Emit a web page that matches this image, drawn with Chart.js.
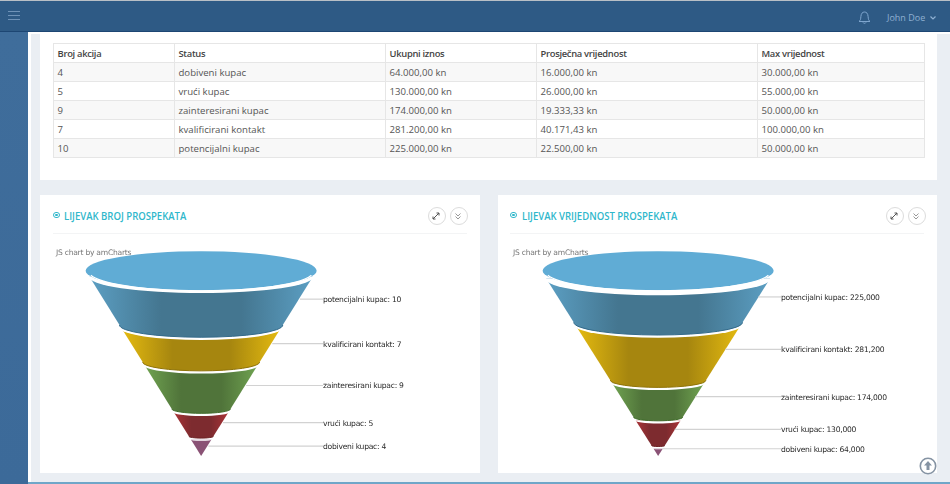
<!DOCTYPE html>
<html lang="hr">
<head>
<meta charset="utf-8">
<title>Lijevak prospekata</title>
<script src="https://cdn.jsdelivr.net/npm/chart.js@4/dist/chart.umd.min.js"></script>
<style>
  html, body { margin: 0; padding: 0; }
  body { width: 950px; height: 484px; position: relative; overflow: hidden; background: #fff; font-family: "Open Sans", sans-serif; color: #555; }
  .abs { position: absolute; }
  #topline { left: 0; top: 0; width: 950px; height: 1px; background: #b9bfc6; }
  #header { left: 0; top: 1px; width: 950px; height: 31px; background: #2e5a85; border-bottom: 1px solid #1d4673; box-sizing: border-box; }
  #sidebar { left: 0; top: 32px; width: 28px; height: 452px; background: linear-gradient(#3f6d9b, #3c6a99); }
  #gutter { left: 31px; top: 34px; width: 919px; height: 450px; background: #eaeef3; }
  #bottom { left: 28px; top: 482px; width: 922px; height: 2px; background: #6fa6c8; }
  .burger { left: 8px; width: 12px; height: 1.4px; background: #6f93b8; }
  #bell { left: 858px; top: 10px; }
  #user { left: 887px; top: 11px; font-size: 9px; color: #8fb0d2; white-space: nowrap; }
  .card { background: #fff; }
  #tableCard { left: 40px; top: 33px; width: 897px; height: 147px; }
  #cardL { left: 40px; top: 195px; width: 440px; height: 278px; }
  #cardR { left: 498px; top: 195px; width: 439px; height: 278px; }
  table { position: absolute; left: 53px; top: 43px; width: 871px; border-collapse: collapse; table-layout: fixed; font-size: 9.6px; line-height: 12px; }
  th, td { border: 1px solid #e6e6e6; height: 17px; padding: 1px 0 0 3.5px; text-align: left; box-sizing: content-box; white-space: nowrap; }
  th { font-weight: 600; font-size: 9.4px; letter-spacing: -.3px; color: #444; background: #fff; }
  tbody tr:nth-child(odd) td { background: #f8f8f8; }
  .title { top: 209px; font-size: 10.6px; line-height: 14px; font-weight: 600; color: #2fb7cb; white-space: nowrap; transform: scaleX(.9); transform-origin: 0 0; }
  .rule { top: 233px; height: 1px; background: #f3f4f5; }
  .dot { top: 211.5px; width: 4.5px; height: 4.5px; border: 1.7px solid #2fb7cb; border-radius: 50%; box-sizing: content-box; }
  .dot::after { content: ""; position: absolute; left: 1px; top: 1px; width: 2.5px; height: 2.5px; background: #2fb7cb; border-radius: 50%; }
  .btn { top: 207px; width: 16px; height: 16px; border: 1px solid #dcdcdc; border-radius: 50%; background: #fff; }
  canvas { position: absolute; }
  #upBtn { left: 919px; top: 457px; }
</style>
</head>
<body>
<div class="abs" id="gutter"></div>
<div class="abs" id="sidebar"></div>
<div class="abs" id="bottom"></div>
<div class="abs" id="topline"></div>
<div class="abs" id="header"></div>
<div class="abs burger" style="top:11px"></div>
<div class="abs burger" style="top:15px"></div>
<div class="abs burger" style="top:19px"></div>
<svg class="abs" id="bell" width="13" height="15" viewBox="0 0 13 15" fill="none" stroke="#7fa6cf" stroke-width="1">
  <path d="M1 11.5c1.5-1 1.7-2.5 1.9-5C3.1 3.5 4.5 2 6.5 2s3.4 1.500 3.600 4.500c.2 2.500.4 4 1.900 5z"/><path d="M5 12.500c.3 1 2.700 1 3 0"/>
</svg>
<div class="abs" id="user">John Doe &nbsp;<svg width="6" height="4" viewBox="0 0 6 4" fill="none" stroke="#8fb0d2" stroke-width="1.200" style="vertical-align:1px"><path d="M.5.500 3 3 5.500.500"/></svg></div>

<div class="abs card" id="tableCard"></div>
<table>
  <colgroup><col style="width:121px"><col style="width:211px"><col style="width:151px"><col style="width:221px"><col style="width:167px"></colgroup>
  <thead><tr id="headRow"></tr></thead>
  <tbody id="tableBody"></tbody>
</table>

<div class="abs card" id="cardL"></div>
<div class="abs card" id="cardR"></div>

<div class="abs dot" style="left:53px"></div>
<div class="abs title" style="left:64px">LIJEVAK BROJ PROSPEKATA</div>
<div class="abs rule" style="left:53px;width:414px"></div>
<div class="abs btn" style="left:428px"></div>
<div class="abs btn" style="left:450px"></div>
<div class="abs dot" style="left:510px"></div>
<div class="abs title" style="left:521.500px">LIJEVAK VRIJEDNOST PROSPEKATA</div>
<div class="abs rule" style="left:510px;width:414px"></div>
<div class="abs btn" style="left:886px"></div>
<div class="abs btn" style="left:908px"></div>

<svg class="abs" style="left:431px;top:211px" width="54" height="10" viewBox="0 0 54 10" fill="none" stroke="#555" stroke-width="1">
  <path d="M2 8 8 2M5.500 2H8V4.500M2 5.500V8H4.500"/><path stroke="#999" d="M24.500 2.500 27 5l2.500-2.500M24.500 5.500 27 8l2.500-2.500"/>
</svg>
<svg class="abs" style="left:889px;top:211px" width="54" height="10" viewBox="0 0 54 10" fill="none" stroke="#555" stroke-width="1">
  <path d="M2 8 8 2M5.500 2H8V4.500M2 5.500V8H4.500"/><path stroke="#999" d="M24.500 2.500 27 5l2.500-2.500M24.500 5.500 27 8l2.500-2.500"/>
</svg>

<canvas id="funnelCount" style="left:41px;top:236px;width:439px;height:236px" width="439" height="236"></canvas>
<canvas id="funnelAmount" style="left:498px;top:236px;width:439px;height:236px" width="439" height="236"></canvas>

<svg class="abs" id="upBtn" width="18" height="18" viewBox="0 0 18 18" fill="none">
  <circle cx="9" cy="9" r="7.700" stroke="#8593a3" stroke-width="1.600"/><path d="M9 4 5 8.500h2.500V13h3V8.500H13z" fill="#8593a3"/>
</svg>

<script>
"use strict";

const TABLE_HEADERS = ["Broj akcija", "Status", "Ukupni iznos", "Prosječna vrijednost", "Max vrijednost"];
const ACTION_COUNTS = [4, 5, 9, 7, 10];
const STATUSES = ["dobiveni kupac", "vrući kupac", "zainteresirani kupac", "kvalificirani kontakt", "potencijalni kupac"];
const TOTALS = ["64.000,00 kn", "130.000,00 kn", "174.000,00 kn", "281.200,00 kn", "225.000,00 kn"];
const AVERAGES = ["16.000,00 kn", "26.000,00 kn", "19.333,33 kn", "40.171,43 kn", "22.500,00 kn"];
const MAXIMA = ["30.000,00 kn", "55.000,00 kn", "50.000,00 kn", "100.000,00 kn", "50.000,00 kn"];

// funnel stages, top to bottom
const STAGES = ["potencijalni kupac", "kvalificirani kontakt", "zainteresirani kupac", "vrući kupac", "dobiveni kupac"];
const STAGE_COUNTS = [10, 7, 9, 5, 4];
const STAGE_AMOUNTS = [225000, 281200, 174000, 130000, 64000];

const STAGE_COLORS = [
  { edge: "#5c9fc3", mid: "#447690", rim: "#336a8a" },
  { edge: "#e5bb10", mid: "#a6860f", rim: "#8f7308" },
  { edge: "#70a351", mid: "#50743a", rim: "#3f6b2a" },
  { edge: "#aa3337", mid: "#7d2b2f", rim: "#6a1f22" },
  { edge: "#8a5275", mid: "#8a5275", rim: "#8a5275" },
];
const CAP_COLOR = "#60acd5";
const CANVAS_H = 236;
const CANVAS_TOP = 236;
const CAP_RATIO = 0.15;

const head = document.getElementById("headRow");
TABLE_HEADERS.forEach(t => {
  const th = document.createElement("th");
  th.textContent = t;
  head.appendChild(th);
});
const body = document.getElementById("tableBody");
ACTION_COUNTS.forEach((n, i) => {
  const tr = document.createElement("tr");
  [n, STATUSES[i], TOTALS[i], AVERAGES[i], MAXIMA[i]].forEach(v => {
    const td = document.createElement("td");
    td.textContent = v;
    tr.appendChild(td);
  });
  body.appendChild(tr);
});

// stack the stage values down the y axis, leaving a small gap between stages
function stackSegments(values, gap, apex) {
  let y = 0;
  return values.map(v => {
    const top = y;
    const bottom = Math.min(y + v, apex);
    y += v + gap;
    return { top, bottom };
  });
}

function halfWidth(y, apex) {
  return 100 * (apex - y) / apex;
}

function segmentGradient(chart, i, seg, apex) {
  const c = STAGE_COLORS[i];
  const x = chart.scales.x;
  if (!chart.chartArea) return c.mid;
  const w = halfWidth(seg.top, apex);
  const g = chart.ctx.createLinearGradient(x.getPixelForValue(-w), 0, x.getPixelForValue(w), 0);
  g.addColorStop(0, c.edge);
  g.addColorStop(0.32, c.mid);
  g.addColorStop(0.68, c.mid);
  g.addColorStop(1, c.edge);
  return g;
}

const funnelDecor = {
  id: "funnelDecor",
  // lens below a chord; reaches 1px above it so no seam shows against the body
  halfArc(ctx, cx, cy, rx, ry, fill, stroke) {
    ctx.beginPath();
    ctx.ellipse(cx, cy, rx, ry, 0, 0, Math.PI);
    ctx.lineTo(cx - rx + 0.6, cy - 1);
    ctx.lineTo(cx + rx - 0.6, cy - 1);
    ctx.closePath();
    ctx.fillStyle = fill;
    ctx.fill();
    if (stroke) {
      ctx.beginPath();
      ctx.ellipse(cx, cy, rx, ry, 0, 0, Math.PI);
      ctx.strokeStyle = stroke;
      ctx.lineWidth = 1;
      ctx.stroke();
    }
  },
  afterDatasetDraw(chart, args, opts) {
    const i = args.index;
    const seg = opts.segments[i];
    const { x, y } = chart.scales;
    const ctx = chart.ctx;
    const cx = x.getPixelForValue(0);
    const rxBottom = x.getPixelForValue(halfWidth(seg.bottom, opts.apex)) - cx;
    const rxTop = x.getPixelForValue(halfWidth(seg.top, opts.apex)) - cx;
    const topPx = y.getPixelForValue(seg.top);
    ctx.save();
    if (rxBottom > 1) {
      this.halfArc(ctx, cx, y.getPixelForValue(seg.bottom), rxBottom, rxBottom * CAP_RATIO,
        segmentGradient(chart, i, seg, opts.apex), STAGE_COLORS[i].rim);
    }
    // white crescent carved out of the segment's top edge
    ctx.beginPath();
    ctx.ellipse(cx, topPx, rxTop + 1, rxTop * CAP_RATIO, 0, 0, Math.PI);
    ctx.closePath();
    ctx.fillStyle = "#fff";
    ctx.fill();
    ctx.restore();
  },
  afterDatasetsDraw(chart, args, opts) {
    const { x, y } = chart.scales;
    const ctx = chart.ctx;
    const cx = x.getPixelForValue(0);
    const capY = opts.capPx - CANVAS_TOP;
    ctx.save();

    ctx.beginPath();
    ctx.ellipse(cx, capY, 115.5, 19.5, 0, 0, Math.PI * 2);
    ctx.fillStyle = CAP_COLOR;
    ctx.fill();
    ctx.beginPath();
    ctx.ellipse(cx, capY + 0.6, 112.5, 19.6, 0, 0.2, Math.PI - 0.2);
    ctx.strokeStyle = "#fff";
    ctx.lineWidth = 1.2;
    ctx.stroke();

    ctx.fillStyle = "#777";
    ctx.font = '7.6px "DejaVu Sans"';
    ctx.letterSpacing = "-0.25px";
    ctx.textBaseline = "middle";
    ctx.textAlign = "left";
    ctx.fillText("JS chart by amCharts", 15, 17);

    // leader lines and stage labels
    opts.segments.forEach((seg, i) => {
      const mid = (seg.top + seg.bottom) / 2;
      const py = y.getPixelForValue(mid) + opts.labelNudge;
      const from = x.getPixelForValue(halfWidth(mid, opts.apex)) + 2;
      ctx.beginPath();
      ctx.moveTo(from, py);
      ctx.lineTo(opts.labelX, py);
      ctx.strokeStyle = "#d2d2d2";
      ctx.lineWidth = 1.2;
      ctx.stroke();
      ctx.fillStyle = "#2a2a2a";
      ctx.fillText(STAGES[i] + ": " + opts.values[i].toLocaleString("en-US"), opts.labelX, py + 1);
    });
    ctx.restore();
  },
};

function makeFunnel(id, values, style) {
  const u = style.pxPerUnit;
  const apex = (456 - style.topPx) / u;
  const gap = style.gapPx / u;
  const segments = stackSegments(values, gap, apex);
  const datasets = segments.map((seg, i) => {
    const wt = halfWidth(seg.top, apex);
    const wb = halfWidth(seg.bottom, apex);
    return {
      label: STAGES[i],
      showLine: true,
      fill: "shape",
      borderWidth: 0,
      pointRadius: 0,
      backgroundColor: ctx => segmentGradient(ctx.chart, i, seg, apex),
      data: [
        { x: -wt, y: seg.top },
        { x: wt, y: seg.top },
        { x: wb, y: seg.bottom },
        { x: -wb, y: seg.bottom },
        { x: -wt, y: seg.top },
      ],
    };
  });
  return new Chart(document.getElementById(id), {
    type: "scatter",
    data: { datasets },
    plugins: [funnelDecor],
    options: {
      responsive: false,
      animation: false,
      events: [],
      layout: { padding: 0 },
      scales: {
        x: { display: false, min: -143, max: 249 },
        y: {
          display: false,
          reverse: true,
          min: -(style.topPx - CANVAS_TOP) / u,
          max: (CANVAS_TOP + CANVAS_H - style.topPx) / u,
        },
      },
      plugins: {
        legend: { display: false },
        tooltip: { enabled: false },
        funnelDecor: {
          segments,
          apex,
          values,
          capPx: 270.7,
          labelX: style.labelX,
          labelNudge: style.labelNudge,
        },
      },
    },
  });
}

makeFunnel("funnelCount", STAGE_COUNTS, { topPx: 276.3, pxPerUnit: 4.87, gapPx: 3, labelX: 282, labelNudge: -1.5 });
makeFunnel("funnelAmount", STAGE_AMOUNTS, { topPx: 278.5, pxPerUnit: 0.000195, gapPx: 3, labelX: 283, labelNudge: -3.5 });
</script>
</body>
</html>
